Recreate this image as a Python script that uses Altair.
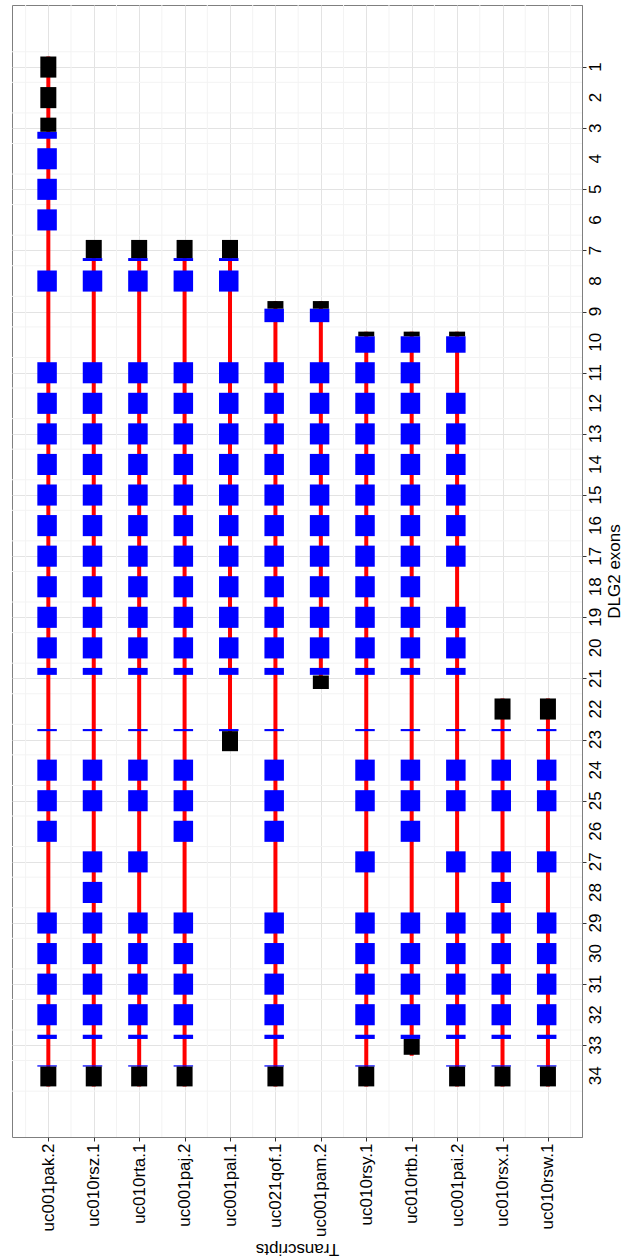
import altair as alt
import pandas as pd

transcripts = ["uc001pak.2", "uc010rsz.1", "uc010rta.1", "uc001paj.2", "uc001pal.1",
               "uc021qof.1", "uc001pam.2", "uc010rsy.1", "uc010rtb.1", "uc001pai.2",
               "uc010rsx.1", "uc010rsw.1"]
exon_ticks = list(range(1, 35))

mid = list(range(11, 22))  # exons 11..21
tail_a = [23, 24, 25, 26, 29, 30, 31, 32, 33, 34]
tail_b = [23, 24, 25, 27, 29, 30, 31, 32, 33, 34]

# coding (blue) exons for each transcript
cds_exons = {
    "uc001pak.2": [3, 4, 5, 6, 8] + mid + tail_a,
    "uc010rsz.1": [7, 8] + mid + [23, 24, 25, 27, 28, 29, 30, 31, 32, 33, 34],
    "uc010rta.1": [7, 8] + mid + tail_b,
    "uc001paj.2": [7, 8] + mid + tail_a,
    "uc001pal.1": [7, 8] + mid + [23],
    "uc021qof.1": [9] + mid + tail_a,
    "uc001pam.2": [9] + mid,
    "uc010rsy.1": [10] + mid + tail_b,
    "uc010rtb.1": [10] + mid + [23, 24, 25, 26, 29, 30, 31, 32, 33],
    "uc001pai.2": [10, 12, 13, 14, 15, 16, 17, 19, 20, 21] + tail_b,
    "uc010rsx.1": [23, 24, 25, 27, 28, 29, 30, 31, 32, 33, 34],
    "uc010rsw.1": [23, 24, 25, 27, 29, 30, 31, 32, 33, 34],
}

# part of the exon slot covered by coding sequence (0 = top, 1 = bottom)
cds_part = {3: (0.67, 1.0), 7: (0.86, 1.0), 9: (0.36, 1.0), 10: (0.22, 1.0),
            21: (0.0, 0.33), 23: (0.0, 0.1), 33: (0.0, 0.2), 34: (0.0, 0.06)}

# untranslated (black) pieces: transcript, exon, start part, end part
utr_transcript = ["uc001pak.2", "uc001pak.2", "uc001pak.2", "uc001pak.2",
                  "uc010rsz.1", "uc010rsz.1", "uc010rta.1", "uc010rta.1",
                  "uc001paj.2", "uc001paj.2", "uc001pal.1", "uc001pal.1",
                  "uc021qof.1", "uc021qof.1", "uc001pam.2", "uc001pam.2",
                  "uc010rsy.1", "uc010rsy.1", "uc010rtb.1", "uc010rtb.1",
                  "uc001pai.2", "uc001pai.2", "uc010rsx.1", "uc010rsx.1",
                  "uc010rsw.1", "uc010rsw.1"]
utr_exon = [1, 2, 3, 34, 7, 34, 7, 34, 7, 34, 7, 23, 9, 34, 9, 21,
            10, 34, 10, 33, 10, 34, 22, 34, 22, 34]
utr_start = [0, 0, 0, 0.06, 0, 0.06, 0, 0.06, 0, 0.06, 0, 0.1, 0, 0.06, 0, 0.36,
             0, 0.06, 0, 0.2, 0, 0.06, 0, 0.06, 0, 0.06]
utr_end = [1, 1, 0.67, 1.0, 0.86, 1.0, 0.86, 1.0, 0.86, 1.0, 0.86, 1.05, 0.36, 1.0, 0.36, 1.0,
           0.22, 1.0, 0.22, 0.95, 0.22, 1.0, 1, 1.0, 1, 1.0]

H = 0.345  # half height of an exon slot, in exon units

def slot(exon, f):
    return exon - H + 2 * H * f

idx = {t: i + 1 for i, t in enumerate(transcripts)}

cds_rows = []
for t in transcripts:
    for e in cds_exons[t]:
        f0, f1 = cds_part.get(e, (0.0, 1.0))
        cds_rows.append({"t": idx[t], "y0": slot(e, f0), "y1": slot(e, f1)})
cds_df = pd.DataFrame(cds_rows)

utr_df = pd.DataFrame({
    "t": [idx[t] for t in utr_transcript],
    "y0": [slot(e, a) for e, a in zip(utr_exon, utr_start)],
    "y1": [slot(e, b) for e, b in zip(utr_exon, utr_end)],
})

line_rows = []
for t in transcripts:
    allex = cds_exons[t] + [e for tt, e in zip(utr_transcript, utr_exon) if tt == t]
    line_rows.append({"t": idx[t], "y0": min(allex) - H, "y1": max(allex) + H})
line_df = pd.DataFrame(line_rows)

tick_df = pd.DataFrame({"e": exon_ticks, "lab": [str(v) for v in exon_ticks]})

FONT = "Liberation Sans"
W, HGT = 570, 1132
names_js = "[" + ",".join("'%s'" % n for n in transcripts) + "]"

x_scale = alt.Scale(domain=[0.2, 12.75], zero=False, nice=False)
y_scale = alt.Scale(domain=[-1.03, 36.0], reverse=True, zero=False, nice=False)

x_axis = alt.Axis(
    orient="bottom", title="Transcripts",
    values=list(range(1, len(transcripts) + 1)),
    labelExpr=names_js + "[datum.value - 1]",
    labelAngle=270, labelAlign="right", labelBaseline="middle",
    labelOverlap=False, labelFlush=False,
    labelFontSize=17, labelColor="#000000", labelFont=FONT, labelPadding=2,
    titleAngle=180, titleBaseline="bottom", titleFontSize=17, titleFont=FONT,
    titleFontWeight="normal", titleColor="#000000", titlePadding=3,
    tickSize=4, tickColor="#333333",
    gridColor="#e3e3e3", gridWidth=1, domain=False,
)
y_axis = alt.Axis(
    orient="right", title="DLG2 exons",
    values=exon_ticks, labels=False,
    titleAngle=270, titleBaseline="top", titleFontSize=17, titleFont=FONT,
    titleFontWeight="normal", titleColor="#000000", titlePadding=20,
    tickSize=4, tickColor="#333333",
    gridColor="#e3e3e3", gridWidth=1, domain=True, domainColor="#7f7f7f",
)

minor_y = alt.Chart(alt.sequence(0.5, 35, 1, as_="m")).mark_rule(
    color="#f3f3f3", strokeWidth=1).encode(y=alt.Y("m:Q", scale=y_scale, axis=y_axis))
minor_x = alt.Chart(alt.sequence(0.5, 13, 1, as_="m")).mark_rule(
    color="#f3f3f3", strokeWidth=1).encode(x=alt.X("m:Q", scale=x_scale, axis=x_axis))

lines = alt.Chart(line_df).mark_rule(color="#ff0000", strokeWidth=4).encode(
    x=alt.X("t:Q", scale=x_scale, axis=x_axis),
    y=alt.Y("y0:Q", scale=y_scale, axis=y_axis),
    y2="y1:Q",
)
cds = alt.Chart(cds_df).mark_rect(color="#0000ff", xOffset=-11, x2Offset=8.5).encode(
    x="t:Q", x2="t:Q", y="y0:Q", y2="y1:Q",
)
utr = alt.Chart(utr_df).mark_rect(color="#000000", xOffset=-8, x2Offset=8).encode(
    x="t:Q", x2="t:Q", y="y0:Q", y2="y1:Q",
)
ylabels = alt.Chart(tick_df).mark_text(
    angle=270, align="center", baseline="top", fontSize=17, font=FONT,
    color="#000000", clip=False,
).encode(
    x=alt.value(W + 6),
    y=alt.Y("e:Q", scale=y_scale, axis=y_axis),
    text="lab:N",
)

chart = alt.layer(minor_y, minor_x, lines, cds, utr, ylabels).properties(
    width=W, height=HGT,
    padding={"left": 11, "top": 4, "right": 0, "bottom": 0},
    background="#ffffff",
).configure_view(stroke="#7f7f7f", strokeWidth=1).configure_axis(labelOverlap=False)

chart.save("out.html", embed_options={"renderer": "svg", "actions": False})
